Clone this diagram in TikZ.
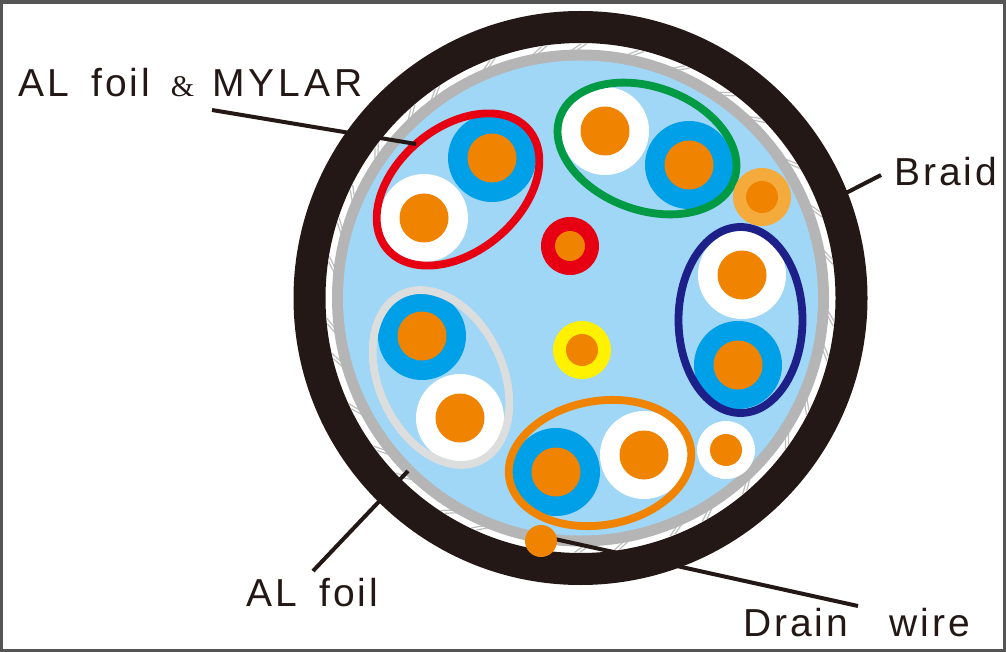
\documentclass[tikz,border=0pt]{standalone}
\usepackage{fontspec}
\setmainfont{Liberation Sans}
\definecolor{ink}{HTML}{231815}
\definecolor{sky}{HTML}{A0D6F6}
\definecolor{cyanb}{HTML}{00A0E9}
\definecolor{core}{HTML}{F08300}
\definecolor{ringgray}{HTML}{B5B5B6}
\definecolor{palegray}{HTML}{DCDDDD}
\definecolor{tickgray}{HTML}{BDBEBE}
\definecolor{lightor}{HTML}{F5AB3C}
\definecolor{redp}{HTML}{E60012}
\definecolor{greenp}{HTML}{009944}
\definecolor{navyp}{HTML}{1D2088}
\definecolor{yellowp}{HTML}{FFF100}
\definecolor{framegray}{HTML}{555555}
\tikzset{
  lbl/.style={anchor=base west,inner sep=0pt,text=ink,font=\fontsize{39}{39}\selectfont\addfontfeatures{LetterSpace=7.5}},
  leader/.style={draw=ink,line width=4pt},
  pairloop/.style={line width=7.8pt,draw=#1},
  tick/.style={draw=tickgray,line width=1.2pt}
}
\newcommand{\wire}[5]{% x,y,insulation colour,radius,core radius
  \fill[#3] (#1,#2) circle (#4);
  \fill[core] (#1,#2) circle (#5);
}
\begin{document}
\begin{tikzpicture}[x=1pt,y=-1pt]
\useasboundingbox (0,0) rectangle (1006,652);
\fill[white] (0,0) rectangle (1006,652);
% window frame
\fill[framegray] (0,0) rectangle (1006,4);
\fill[framegray] (0,0) rectangle (3,652);
\fill[framegray] (1003,0) rectangle (1006,652);
\fill[framegray] (0,649) rectangle (1006,652);
% cable
\coordinate (C) at (580.5,298);
\fill[ink,even odd rule] (C) circle (287) (C) circle (255);
\foreach \a in {3,11,24,33,47,58,66,79,88,97,112,120,133,141,152,164,172,186,195,203,214,226,233,247,259,268,281,292,304,313,326,338,349}{
  \draw[tick] ([shift={(\a:248)}]C) -- ([shift={(\a+2.2:254.5)}]C);
  \draw[tick] ([shift={(\a+1.2:248)}]C) -- ([shift={(\a+3.4:254.5)}]C);
}
\fill[ringgray] (C) circle (248.5);
\fill[sky] (C) circle (237.5);
% pairs
\wire{492}{158}{cyanb}{44}{24.5}
\wire{424}{218}{white}{44}{24.5}
\draw[pairloop=redp] (458,189.5) ellipse [x radius=92.5pt,y radius=62pt,rotate=40];
\wire{605}{131}{white}{44}{24.5}
\wire{689}{165}{cyanb}{44}{24.5}
\draw[pairloop=greenp] (647,148.5) ellipse [x radius=92.5pt,y radius=61.5pt,rotate=-20];
\wire{742}{275}{white}{44}{24.5}
\wire{738}{365}{cyanb}{44}{24.5}
\draw[pairloop=navyp] (740.5,320) ellipse [x radius=93pt,y radius=62pt,rotate=90];
\wire{422}{336}{cyanb}{44}{24.5}
\wire{460}{418}{white}{44}{24.5}
\draw[pairloop=palegray] (441,377.5) ellipse [x radius=92pt,y radius=62pt,rotate=-65];
\wire{556}{472}{cyanb}{44}{24.5}
\wire{644}{455}{white}{44}{24.5}
\draw[pairloop=core] (600,463) ellipse [x radius=92pt,y radius=62pt,rotate=10];
% single wires
\wire{570}{246}{redp}{29}{15}
\wire{582}{350}{yellowp}{29}{16}
\wire{726}{450}{white}{29}{16}
\wire{762}{197}{lightor}{29}{16}
% labels
\node[lbl] (lmylar) at (18,97) {AL\hspace{9pt} foil\hspace{2pt} {\fontspec{Liberation Serif}\fontsize{30}{30}\selectfont\,\&\,}\hspace{-1pt} {\addfontfeatures{LetterSpace=10.5}MYLAR}};
\node[lbl] (lbraid) at (894,186) {Braid};
\node[lbl] (lfoil) at (246,606) {AL\hspace{9pt} foil};
\node[lbl] (ldrain) at (743,636) {Drain\hspace{28pt} wire};
% connector ends
\coordinate (mylarA) at (212,110);
\coordinate (mylarB) at (416,144);
\coordinate (braidA) at (881,175);
\coordinate (braidB) at (846,193);
\coordinate (foilA) at (313,571);
\coordinate (foilB) at (408,471);
\coordinate (drainA) at (541,536);
\coordinate (drainB) at (858,606);
\draw[leader] (mylarA) -- (mylarB);
\draw[leader] (braidA) -- (braidB);
\draw[leader] (foilA) -- (foilB);
\draw[leader] (drainA) -- (drainB);
\fill[core] (541,541) circle (16);
\end{tikzpicture}
\end{document}
